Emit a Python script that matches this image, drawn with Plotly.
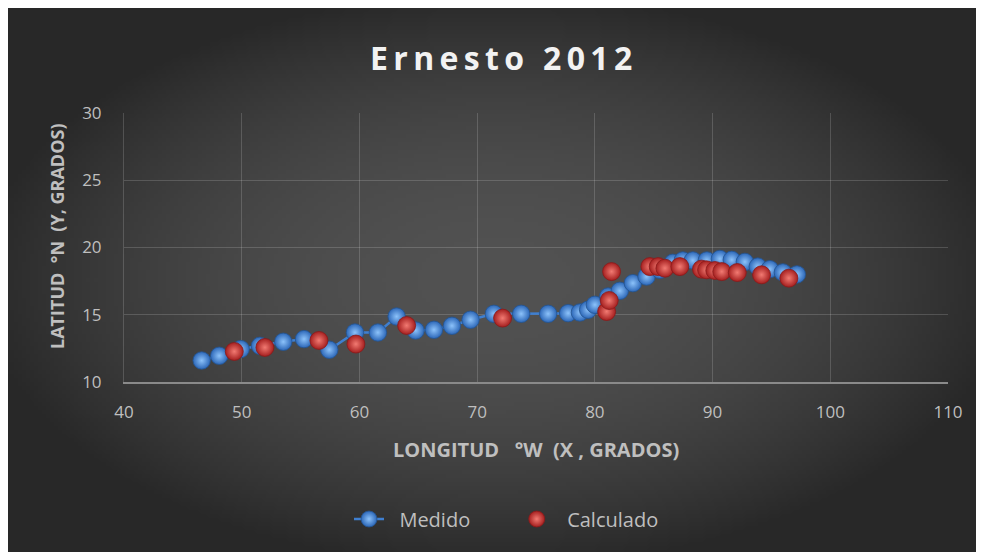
import numpy as np
import zlib, struct, base64
import plotly.graph_objects as go

# ---------------- data ----------------
medido_lon = [46.60, 48.09, 49.91, 51.55, 53.53, 55.29, 57.44, 59.62, 61.57, 63.16,
              64.77, 66.33, 67.86, 69.44, 71.42, 73.74, 76.03, 77.73, 78.73, 79.43,
              80.00, 81.13, 82.12, 83.23, 84.39, 85.52, 86.62, 87.47, 88.32, 89.51,
              90.62, 91.63, 92.74, 93.84, 94.86, 95.97, 97.16]
medido_lat = [11.60, 11.95, 12.45, 12.69, 12.99, 13.19, 12.40, 13.68, 13.68, 14.87,
              13.83, 13.88, 14.18, 14.63, 15.07, 15.07, 15.07, 15.12, 15.17, 15.37,
              15.74, 16.36, 16.78, 17.35, 17.84, 18.34, 18.86, 19.04, 19.04, 19.04,
              19.15, 19.08, 18.93, 18.58, 18.39, 18.15, 18.00]

calculado_lon = [49.37, 51.97, 56.56, 59.70, 64.01, 72.16, 81.00, 81.22, 81.42,
                 84.67, 85.38, 85.95, 87.22, 89.06, 89.49, 90.19, 90.78, 92.10,
                 94.16, 96.48]
calculado_lat = [12.27, 12.57, 13.09, 12.82, 14.20, 14.75, 15.24, 16.06, 18.21,
                 18.58, 18.58, 18.46, 18.58, 18.39, 18.34, 18.29, 18.21, 18.14,
                 17.97, 17.72]

x_ticks = [40, 50, 60, 70, 80, 90, 100, 110]
y_ticks = [10, 15, 20, 25, 30]

title_text = "Ernesto 2012"
x_title = "LONGITUD\u00a0\u00a0 °W\u00a0 (X , GRADOS)"
y_title = "LATITUD\u00a0 °N\u00a0 (Y, GRADOS)"

# ---------------- layout geometry (figure pixels) ----------------
W, H = 984, 552
L, R, T, B = 116, 44, 105, 178
PW, PH = W - L - R, H - T - B


def pxx(px):
    return (px - L) / PW


def pxy(py):
    return (H - B - py) / PH


# ---------------- background gradient image ----------------
def make_png(arr):
    h, w = arr.shape
    raw = b"".join(b"\x00" + arr[i].tobytes() for i in range(h))

    def chunk(tag, data):
        c = struct.pack(">I", len(data)) + tag + data
        return c + struct.pack(">I", zlib.crc32(tag + data) & 0xffffffff)

    png = b"\x89PNG\r\n\x1a\n"
    png += chunk(b"IHDR", struct.pack(">IIBBBBB", w, h, 8, 0, 0, 0, 0))
    png += chunk(b"IDAT", zlib.compress(raw, 9))
    png += chunk(b"IEND", b"")
    return "data:image/png;base64," + base64.b64encode(png).decode()


x0, x1, y0, y1 = 0, W, 0, H
gx = np.linspace(x0, x1, 246)
gy = np.linspace(y0, y1, 138)
X, Y = np.meshgrid(gx, gy)
cx, cy, rx, ry = 487, 272, 490, 274
rr = np.sqrt(((X - cx) / rx) ** 2 + ((Y - cy) / ry) ** 2)
val = np.clip(82 - 37 * rr ** 2, 40, 255).astype(np.uint8)
bg_uri = make_png(val)

# ---------------- figure ----------------
fig = go.Figure()

fig.add_trace(go.Scatter(
    x=medido_lon, y=medido_lat, name="\u00a0\u00a0Medido" + "\u00a0" * 8,
    mode="lines+markers",
    line=dict(color="#3f7fd0", width=2.5),
    marker=dict(size=17.5, color="#2c67b8",
                gradient=dict(type="radial", color="#8cc2fa"),
                line=dict(color="#24548f", width=0.8)),
))

fig.add_trace(go.Scatter(
    x=calculado_lon, y=calculado_lat, name="\u00a0\u00a0Calculado", mode="markers",
    marker=dict(size=18, color="#a51f1f",
                gradient=dict(type="radial", color="#f27a72"),
                line=dict(color="#8a1a1a", width=0.8)),
))

axis_font = dict(family="Open Sans", size=17, color="#bfbfbf")

fig.update_layout(
    width=W, height=H,
    margin=dict(l=L, r=R, t=T, b=B, pad=0),
    paper_bgcolor="#2c2c2c",
    plot_bgcolor="rgba(0,0,0,0)",
    showlegend=True,
    legend=dict(orientation="h", x=pxx(341), xanchor="left",
                y=pxy(511), yanchor="middle",
                font=dict(family="Open Sans", size=20, color="#bfbfbf"),
                bgcolor="rgba(0,0,0,0)"),
    images=[dict(source=bg_uri, xref="paper", yref="paper",
                 x=pxx(x0), y=pxy(y0), sizex=(x1 - x0) / PW, sizey=(y1 - y0) / PH,
                 xanchor="left", yanchor="top", sizing="stretch", layer="below")],
    xaxis=dict(range=[40, 110], tickvals=x_ticks, ticktext=[str(v) for v in x_ticks],
               showgrid=True, gridcolor="rgba(255,255,255,0.16)", gridwidth=1,
               showline=True, linecolor="#8a8a8a", linewidth=2,
               zeroline=False, ticks="", tickfont=axis_font,
               ticklabelstandoff=14, fixedrange=True),
    yaxis=dict(range=[10, 30], tickvals=y_ticks, ticktext=[str(v) for v in y_ticks],
               showgrid=True, gridcolor="rgba(255,255,255,0.16)", gridwidth=1,
               showline=True, linecolor="rgba(255,255,255,0.16)", linewidth=1,
               zeroline=False, ticks="", tickfont=axis_font,
               ticklabelstandoff=18, fixedrange=True),
)

spaced_title = "\u2006".join(title_text)
fig.add_annotation(text="<b>" + spaced_title + "</b>", xref="paper", yref="paper",
                   x=pxx(493), y=pxy(49), xanchor="center", yanchor="middle",
                   showarrow=False,
                   font=dict(family="Open Sans", size=32, color="#f2f2f2"))

fig.add_annotation(text="<b>" + x_title + "</b>", xref="paper", yref="paper",
                   x=pxx(528), y=pxy(441), xanchor="center", yanchor="middle",
                   showarrow=False,
                   font=dict(family="Open Sans", size=20, color="#bfbfbf"))
fig.add_annotation(text="<b>" + y_title + "</b>", xref="paper", yref="paper",
                   x=pxx(49), y=pxy(228), xanchor="center", yanchor="middle",
                   textangle=-90, showarrow=False,
                   font=dict(family="Open Sans", size=18, color="#bfbfbf"))

fig.write_html("out.html")
